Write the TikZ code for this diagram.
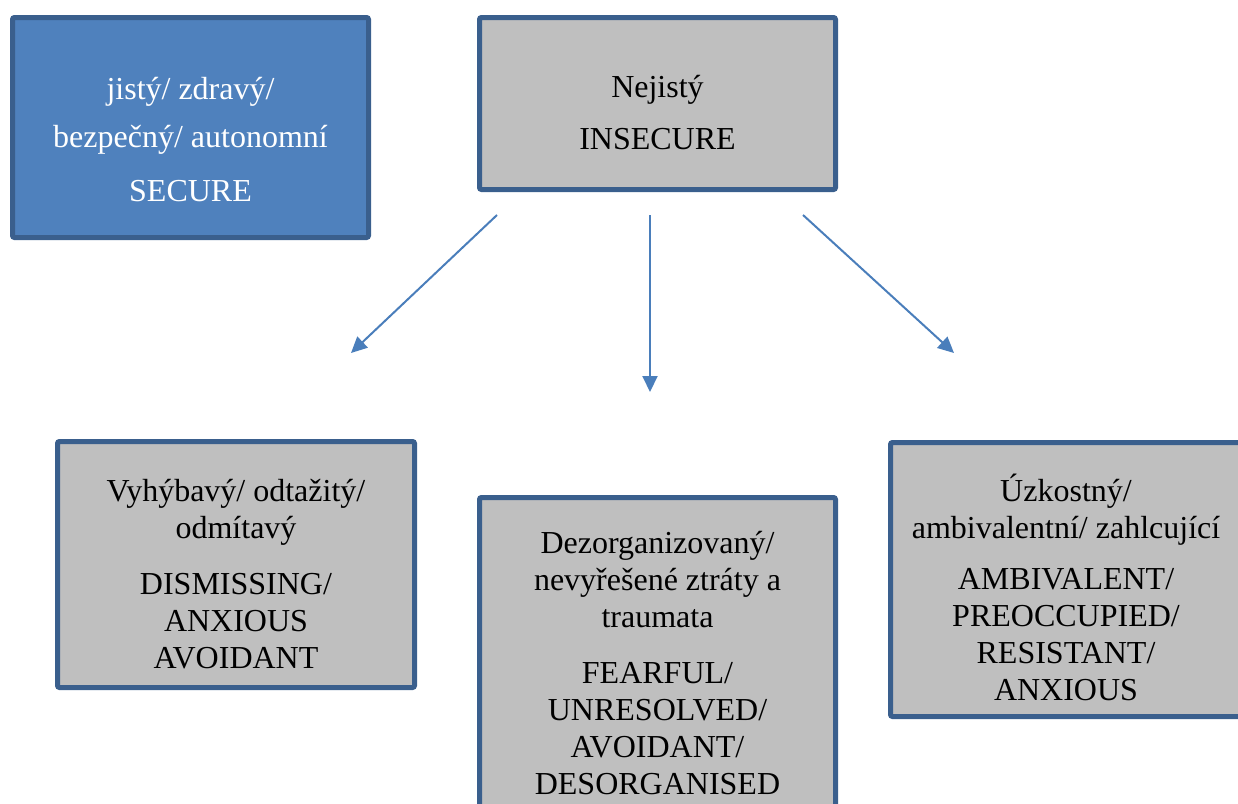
\documentclass[tikz,border=0pt]{standalone}
\usepackage{fontspec}
\setmainfont{Liberation Serif}
\usetikzlibrary{arrows.meta}
\definecolor{boxblue}{HTML}{4F81BD}
\definecolor{edgeblue}{HTML}{3A5F8D}
\definecolor{boxgray}{HTML}{BFBFBF}
\definecolor{arrowblue}{HTML}{4A7EBB}
\begin{document}
\begin{tikzpicture}[x=1pt,y=-1pt,
  box/.style={draw=edgeblue, line width=5pt, rounded corners=2pt, inner sep=0pt},
  graybox/.style={box, fill=boxgray},
  bluebox/.style={box, fill=boxblue},
  txt/.style={font=\fontsize{32}{37}\selectfont, align=center, anchor=base, inner sep=0pt},
  conn/.style={draw=arrowblue, line width=2pt, -{Triangle[length=16pt,width=15pt]}}]
\useasboundingbox (0,0) rectangle (1238,803);
\clip (0,0) rectangle (1238,803);
% boxes
\node[bluebox, minimum width=356pt, minimum height=220pt] (sec) at (190.5,127.5) {};
\node[graybox, minimum width=356pt, minimum height=172pt] (ins) at (657.5,103.5) {};
\node[graybox, minimum width=357pt, minimum height=246pt] (dis) at (236,564.5) {};
\node[graybox, minimum width=356pt, minimum height=330pt] (fea) at (657.5,662.5) {};
\node[graybox, minimum width=353pt, minimum height=274pt] (amb) at (1067,579.5) {};
% texts (anchor base = baseline of last line)
\node[txt, text=white] (sectext) at (190.5,201.7) {jistý/ zdravý/\\[11.5pt]bezpečný/ autonomní\\[17pt]SECURE};
\node[txt] (instext) at (657.5,149.3) {Nejistý\\[15pt]INSECURE};
\node[txt] (distext) at (236,668.3) {Vyhýbavý/ odtažitý/\\odmítavý\\[19pt]DISMISSING/\\ANXIOUS\\AVOIDANT};
\node[txt] (featext) at (657.5,794.3) {Dezorganizovaný/\\nevyřešené ztráty a\\traumata\\[19pt]FEARFUL/\\UNRESOLVED/\\AVOIDANT/\\DESORGANISED};
\node[txt] (ambtext) at (1066,700) {Úzkostný/\\ambivalentní/ zahlcující\\[14pt]AMBIVALENT/\\PREOCCUPIED/\\RESISTANT/\\ANXIOUS};
% connector ends
\coordinate (a1s) at (497,215);
\coordinate (a1e) at (351,353);
\coordinate (a2s) at (650,215);
\coordinate (a2e) at (650,392);
\coordinate (a3s) at (803,215);
\coordinate (a3e) at (954,353);
\draw[conn] (a1s) -- (a1e);
\draw[conn] (a2s) -- (a2e);
\draw[conn] (a3s) -- (a3e);
\end{tikzpicture}
\end{document}
